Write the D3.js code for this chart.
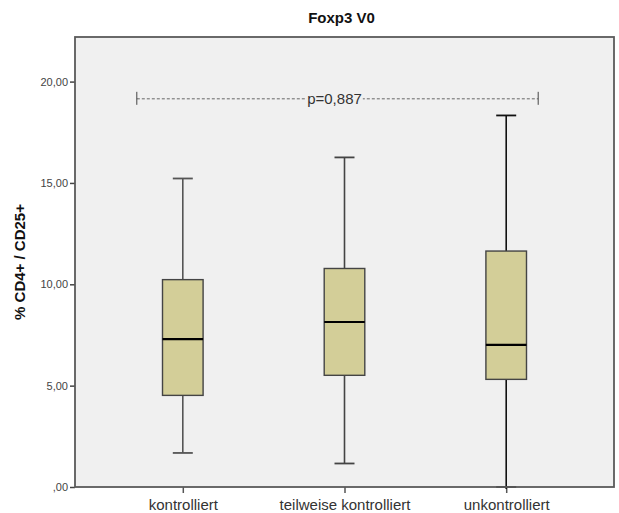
<!DOCTYPE html>
<html>
<head>
<meta charset="utf-8">
<script src="https://cdn.jsdelivr.net/npm/d3@7"></script>
<style>
  html, body { margin: 0; padding: 0; background: #ffffff; }
  svg { display: block; font-family: Arial, "Liberation Sans", sans-serif; }
</style>
</head>
<body>
<svg id="chart" width="619" height="513"></svg>
<script>
// Foxp3 V0 — box plot of % CD4+ / CD25+ by control group
const categories = ["kontrolliert", "teilweise kontrolliert", "unkontrolliert"];
const whiskerLow  = [1.68, 1.16, 0.00];
const quartile1   = [4.52, 5.51, 5.31];
const medians     = [7.30, 8.14, 7.01];
const quartile3   = [10.23, 10.78, 11.64];
const whiskerHigh = [15.22, 16.26, 18.33];
const yTicks = [0, 5, 10, 15, 20];
const pLabel = "p=0,887";
const pLevel = 19.15;

const svg = d3.select("#chart");
const W = 619, H = 513;
const m = { top: 37, right: 5, bottom: 26, left: 75 };
const x0 = m.left, x1 = W - m.right, y0 = H - m.bottom, y1 = m.top;

const x = d3.scalePoint().domain(categories).range([x0, x1]).padding(2 / 3);
const y = d3.scaleLinear().domain([0, 22.2]).range([y0, y1]);

const fmt = v => {
  const s = d3.format(".2f")(v).replace(".", ",");
  return s.startsWith("0,") ? s.slice(1) : s;
};

// plot background
svg.append("rect")
  .attr("x", x0).attr("y", y1)
  .attr("width", x1 - x0).attr("height", y0 - y1)
  .attr("fill", "#f0f0f0");

// title
svg.append("text")
  .attr("x", (x0 + x1) / 2 - 3).attr("y", 23)
  .attr("text-anchor", "middle")
  .attr("font-size", 15).attr("font-weight", "bold").attr("fill", "#111")
  .text("Foxp3 V0");

// y axis
const yAxis = svg.append("g")
  .attr("transform", `translate(${x0},0)`)
  .call(d3.axisLeft(y).tickValues(yTicks).tickFormat(fmt).tickSize(5).tickPadding(2));
yAxis.select(".domain").remove();
yAxis.selectAll(".tick line").attr("stroke", "#444").attr("stroke-width", 1.5);
yAxis.selectAll(".tick text")
  .attr("font-size", 11).attr("fill", "#444")
  .attr("font-family", "Arial, 'Liberation Sans', sans-serif");

// x axis
const xAxis = svg.append("g")
  .attr("transform", `translate(0,${y0})`)
  .call(d3.axisBottom(x).tickSize(6).tickPadding(6));
xAxis.select(".domain").remove();
xAxis.selectAll(".tick line").attr("stroke", "#555").attr("stroke-width", 1.5);
xAxis.selectAll(".tick text")
  .attr("font-size", 15).attr("fill", "#333")
  .attr("font-family", "Arial, 'Liberation Sans', sans-serif");

// y axis title
svg.append("text")
  .attr("transform", `translate(25,${(y0 + y1) / 2}) rotate(-90)`)
  .attr("text-anchor", "middle")
  .attr("font-size", 15).attr("font-weight", "bold").attr("fill", "#111")
  .text("% CD4+ / CD25+");

// boxes
const boxW = 40.6, capW = 20;
const whiskerColors = ["#555", "#444", "#111"];
const rows = categories.map((c, i) => ({
  c, lo: whiskerLow[i], q1: quartile1[i], med: medians[i], q3: quartile3[i], hi: whiskerHigh[i], col: whiskerColors[i]
}));

const g = svg.append("g");
const box = g.selectAll("g.box").data(rows).join("g").attr("class", "box");

box.append("line")
  .attr("x1", d => x(d.c)).attr("x2", d => x(d.c))
  .attr("y1", d => y(d.q3)).attr("y2", d => y(d.hi))
  .attr("stroke", d => d.col).attr("stroke-width", 1.6);
box.append("line")
  .attr("x1", d => x(d.c)).attr("x2", d => x(d.c))
  .attr("y1", d => y(d.q1)).attr("y2", d => y(d.lo) + (d.lo === 0 ? 2 : 0))
  .attr("stroke", d => d.col).attr("stroke-width", 1.6);
box.append("line")
  .attr("x1", d => x(d.c) - capW / 2).attr("x2", d => x(d.c) + capW / 2)
  .attr("y1", d => y(d.hi)).attr("y2", d => y(d.hi))
  .attr("stroke", d => d.col).attr("stroke-width", 1.8);
box.append("line")
  .attr("x1", d => x(d.c) - capW / 2).attr("x2", d => x(d.c) + capW / 2)
  .attr("y1", d => y(d.lo)).attr("y2", d => y(d.lo))
  .attr("stroke", d => d.col).attr("stroke-width", 1.8);
box.append("rect")
  .attr("x", d => x(d.c) - boxW / 2).attr("width", boxW)
  .attr("y", d => y(d.q3)).attr("height", d => y(d.q1) - y(d.q3))
  .attr("fill", "#d3ce98").attr("stroke", "#444").attr("stroke-width", 1.4);
box.append("line")
  .attr("x1", d => x(d.c) - boxW / 2).attr("x2", d => x(d.c) + boxW / 2)
  .attr("y1", d => y(d.med)).attr("y2", d => y(d.med))
  .attr("stroke", "#000").attr("stroke-width", 2.2);

// plot frame
svg.append("rect")
  .attr("x", x0).attr("y", y1)
  .attr("width", x1 - x0).attr("height", y0 - y1)
  .attr("fill", "none").attr("stroke", "#5a5a5a").attr("stroke-width", 1.8);

// significance bracket
const bx0 = x(categories[0]) - 46, bx1 = x(categories[2]) + 32;
const by = y(pLevel);
const sig = svg.append("g").attr("stroke", "#444").attr("stroke-width", 1);
sig.append("line").attr("x1", bx0).attr("x2", bx1).attr("y1", by).attr("y2", by)
  .attr("stroke-dasharray", "3,2").attr("stroke", "#666");
sig.append("line").attr("x1", bx0).attr("x2", bx0).attr("y1", by - 7).attr("y2", by + 6);
sig.append("line").attr("x1", bx1).attr("x2", bx1).attr("y1", by - 7).attr("y2", by + 6);
const labelBg = svg.append("rect").attr("fill", "#f0f0f0");
const pt = svg.append("text")
  .attr("x", (bx0 + bx1) / 2 - 3).attr("y", by + 5)
  .attr("text-anchor", "middle")
  .attr("font-size", 15).attr("fill", "#333")
  .text(pLabel);
const bb = pt.node().getBBox();
labelBg.attr("x", bb.x - 1).attr("y", by - 2).attr("width", bb.width + 2).attr("height", 4);
</script>
</body>
</html>
